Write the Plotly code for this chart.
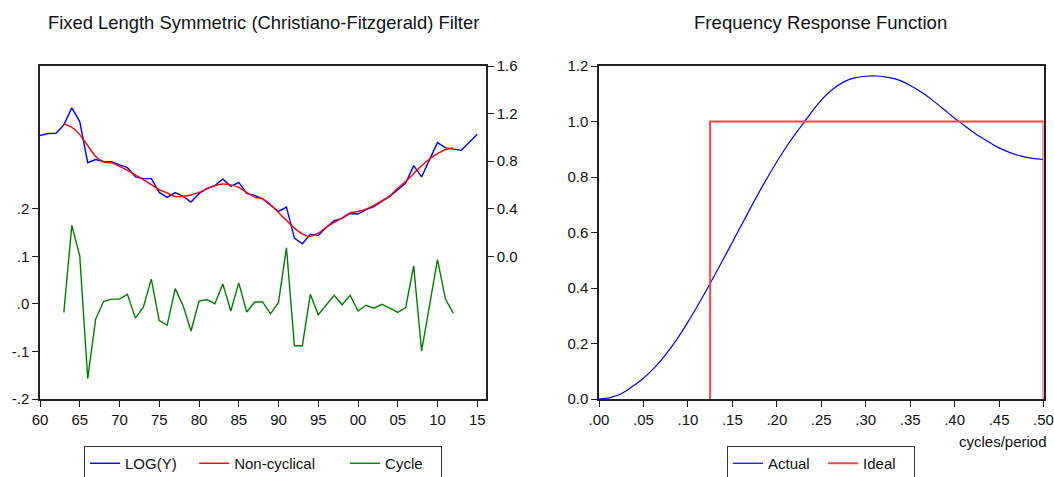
import plotly.graph_objects as go

# ---------------- data ----------------
years = list(range(1960, 2016))
log_y = [1.015, 1.032, 1.034, 1.105, 1.248, 1.133, 0.787, 0.813, 0.796, 0.796,
         0.768, 0.745, 0.667, 0.653, 0.653, 0.537, 0.495, 0.535, 0.504, 0.456,
         0.526, 0.571, 0.594, 0.650, 0.588, 0.621, 0.529, 0.512, 0.482, 0.428,
         0.377, 0.414, 0.153, 0.105, 0.184, 0.175, 0.243, 0.299, 0.318, 0.360,
         0.355, 0.392, 0.417, 0.462, 0.504, 0.560, 0.616, 0.762, 0.667, 0.813,
         0.956, 0.911, 0.903, 0.891, 0.958, 1.026]

filt_years = list(range(1963, 2013))
non_cyclical = [1.113, 1.085, 1.023, 0.930, 0.840, 0.793, 0.785, 0.756, 0.723, 0.684,
                0.644, 0.602, 0.560, 0.532, 0.504, 0.504, 0.515, 0.537, 0.566, 0.594,
                0.608, 0.600, 0.580, 0.537, 0.498, 0.482, 0.434, 0.369, 0.302, 0.237,
                0.189, 0.167, 0.195, 0.243, 0.285, 0.324, 0.364, 0.377, 0.397, 0.428,
                0.467, 0.509, 0.574, 0.630, 0.695, 0.762, 0.818, 0.863, 0.897, 0.911]
cycle = [-0.018, 0.165, 0.101, -0.157, -0.032, 0.005, 0.010, 0.010, 0.020, -0.030,
         -0.007, 0.052, -0.035, -0.045, 0.032, -0.004, -0.057, 0.006, 0.009, 0.000,
         0.042, -0.015, 0.044, -0.017, 0.004, 0.004, -0.021, 0.003, 0.118, -0.088,
         -0.088, 0.020, -0.023, -0.003, 0.018, -0.002, 0.018, -0.015, -0.003, -0.009,
         -0.001, -0.009, -0.018, -0.008, 0.080, -0.099, -0.006, 0.093, 0.010, -0.020]

freq = [0.0, 0.0125, 0.025, 0.0375, 0.05, 0.0625, 0.075, 0.0875, 0.1, 0.1125,
        0.125, 0.1375, 0.15, 0.1625, 0.175, 0.1875, 0.2, 0.2125, 0.225, 0.2375,
        0.25, 0.2625, 0.275, 0.2875, 0.3, 0.3125, 0.325, 0.3375, 0.35, 0.3625,
        0.375, 0.3875, 0.4, 0.4125, 0.425, 0.4375, 0.45, 0.4625, 0.475, 0.4875, 0.5]
actual = [0.000, 0.005, 0.019, 0.045, 0.075, 0.113, 0.160, 0.215, 0.277, 0.345,
          0.416, 0.490, 0.565, 0.640, 0.715, 0.787, 0.855, 0.917, 0.973, 1.027,
          1.077, 1.115, 1.142, 1.157, 1.163, 1.164, 1.159, 1.149, 1.130, 1.106,
          1.077, 1.045, 1.012, 0.982, 0.952, 0.928, 0.905, 0.888, 0.875, 0.867, 0.863]

ideal_x = [0.125, 0.125, 0.5, 0.5]
ideal_y = [0.0, 1.0, 1.0, 0.0]

left_x_ticks = [1960, 1965, 1970, 1975, 1980, 1985, 1990, 1995, 2000, 2005, 2010, 2015]
left_x_labels = ["60", "65", "70", "75", "80", "85", "90", "95", "00", "05", "10", "15"]
cyc_ticks = [-0.2, -0.1, 0.0, 0.1, 0.2]
cyc_labels = ["-.2", "-.1", ".0", ".1", ".2"]
lvl_ticks = [0.0, 0.4, 0.8, 1.2, 1.6]
lvl_labels = ["0.0", "0.4", "0.8", "1.2", "1.6"]
fr_x_ticks = [0.0, 0.05, 0.1, 0.15, 0.2, 0.25, 0.3, 0.35, 0.4, 0.45, 0.5]
fr_x_labels = [".00", ".05", ".10", ".15", ".20", ".25", ".30", ".35", ".40", ".45", ".50"]
fr_y_ticks = [0.0, 0.2, 0.4, 0.6, 0.8, 1.0, 1.2]
fr_y_labels = ["0.0", "0.2", "0.4", "0.6", "0.8", "1.0", "1.2"]

# ---------------- figure ----------------
W, H = 1054, 477
FONT = "Liberation Sans, Arial, sans-serif"
FRAME = "#222222"
NB = "\u00a0"

def px_x(p):
    return p / W

def px_y(p):
    return 1 - p / H

fig = go.Figure()

fig.add_trace(go.Scatter(x=years, y=log_y, name="LOG(Y)" + NB * 3, mode="lines",
                         line=dict(color="#0000ff", width=1.4),
                         xaxis="x", yaxis="y2", legend="legend"))
fig.add_trace(go.Scatter(x=filt_years, y=non_cyclical, name="Non-cyclical" + NB * 6, mode="lines",
                         line=dict(color="#ff0000", width=1.4, shape="spline"),
                         xaxis="x", yaxis="y2", legend="legend"))
fig.add_trace(go.Scatter(x=filt_years, y=cycle, name="Cycle" + NB * 3, mode="lines",
                         line=dict(color="#008000", width=1.4),
                         xaxis="x", yaxis="y", legend="legend"))

fig.add_trace(go.Scatter(x=freq, y=actual, name="Actual" + NB * 2, mode="lines",
                         line=dict(color="#0000ff", width=1.2, shape="spline"),
                         xaxis="x2", yaxis="y3", legend="legend2", cliponaxis=False))
fig.add_trace(go.Scatter(x=ideal_x, y=ideal_y, name="Ideal" + NB * 3, mode="lines",
                         line=dict(color="#ff4545", width=2),
                         xaxis="x2", yaxis="y3", legend="legend2", cliponaxis=False))

tickfont = dict(family=FONT, size=15, color="#111")
axis_common = dict(showgrid=False, zeroline=False, showline=True, linecolor=FRAME,
                   linewidth=1.5, ticks="outside", ticklen=6, tickcolor=FRAME,
                   tickwidth=1, tickfont=tickfont, fixedrange=True)

yd = [px_y(399), px_y(66)]

fig.update_layout(
    width=W, height=H,
    margin=dict(l=0, r=0, t=0, b=0, autoexpand=False),
    paper_bgcolor="white", plot_bgcolor="white",
    font=dict(family=FONT, size=15, color="#111"),
    xaxis=dict(domain=[px_x(40), px_x(486)], range=[1960, 2016.1],
               tickvals=left_x_ticks, ticktext=left_x_labels,
               anchor="y", mirror=True, **axis_common),
    yaxis=dict(domain=yd, range=[-0.2, 0.5], tickvals=cyc_ticks, ticktext=cyc_labels,
               anchor="x", mirror=True, **axis_common),
    yaxis2=dict(range=[-1.2, 1.6], tickvals=lvl_ticks, ticktext=lvl_labels,
                overlaying="y", side="right", anchor="x", **axis_common),
    xaxis2=dict(domain=[px_x(599), px_x(1043.5)], range=[0, 0.5],
                tickvals=fr_x_ticks, ticktext=fr_x_labels,
                anchor="y3", mirror=True, **axis_common),
    yaxis3=dict(domain=yd, range=[0, 1.2], tickvals=fr_y_ticks, ticktext=fr_y_labels,
                anchor="x2", mirror=True, **axis_common),
    legend=dict(orientation="h", x=px_x(263), xanchor="center", y=px_y(446), yanchor="top",
                bordercolor="#333", borderwidth=1, bgcolor="white",
                font=dict(family=FONT, size=15, color="#111"), traceorder="normal"),
    legend2=dict(orientation="h", x=px_x(821), xanchor="center", y=px_y(446), yanchor="top",
                 bordercolor="#333", borderwidth=1, bgcolor="white",
                 font=dict(family=FONT, size=15, color="#111"), traceorder="normal"),
    annotations=[
        dict(text="Fixed Length Symmetric (Christiano-Fitzgerald) Filter",
             x=px_x(263), y=px_y(22), xref="paper", yref="paper",
             xanchor="center", yanchor="middle", showarrow=False,
             font=dict(family=FONT, size=18.4, color="#111")),
        dict(text="Frequency Response Function",
             x=px_x(820), y=px_y(22), xref="paper", yref="paper",
             xanchor="center", yanchor="middle", showarrow=False,
             font=dict(family=FONT, size=18.6, color="#111")),
        dict(text="cycles/period",
             x=px_x(1049), y=px_y(441), xref="paper", yref="paper",
             xanchor="right", yanchor="middle", showarrow=False,
             font=dict(family=FONT, size=15, color="#111")),
    ],
    showlegend=True,
)

fig.write_html("out.html")
